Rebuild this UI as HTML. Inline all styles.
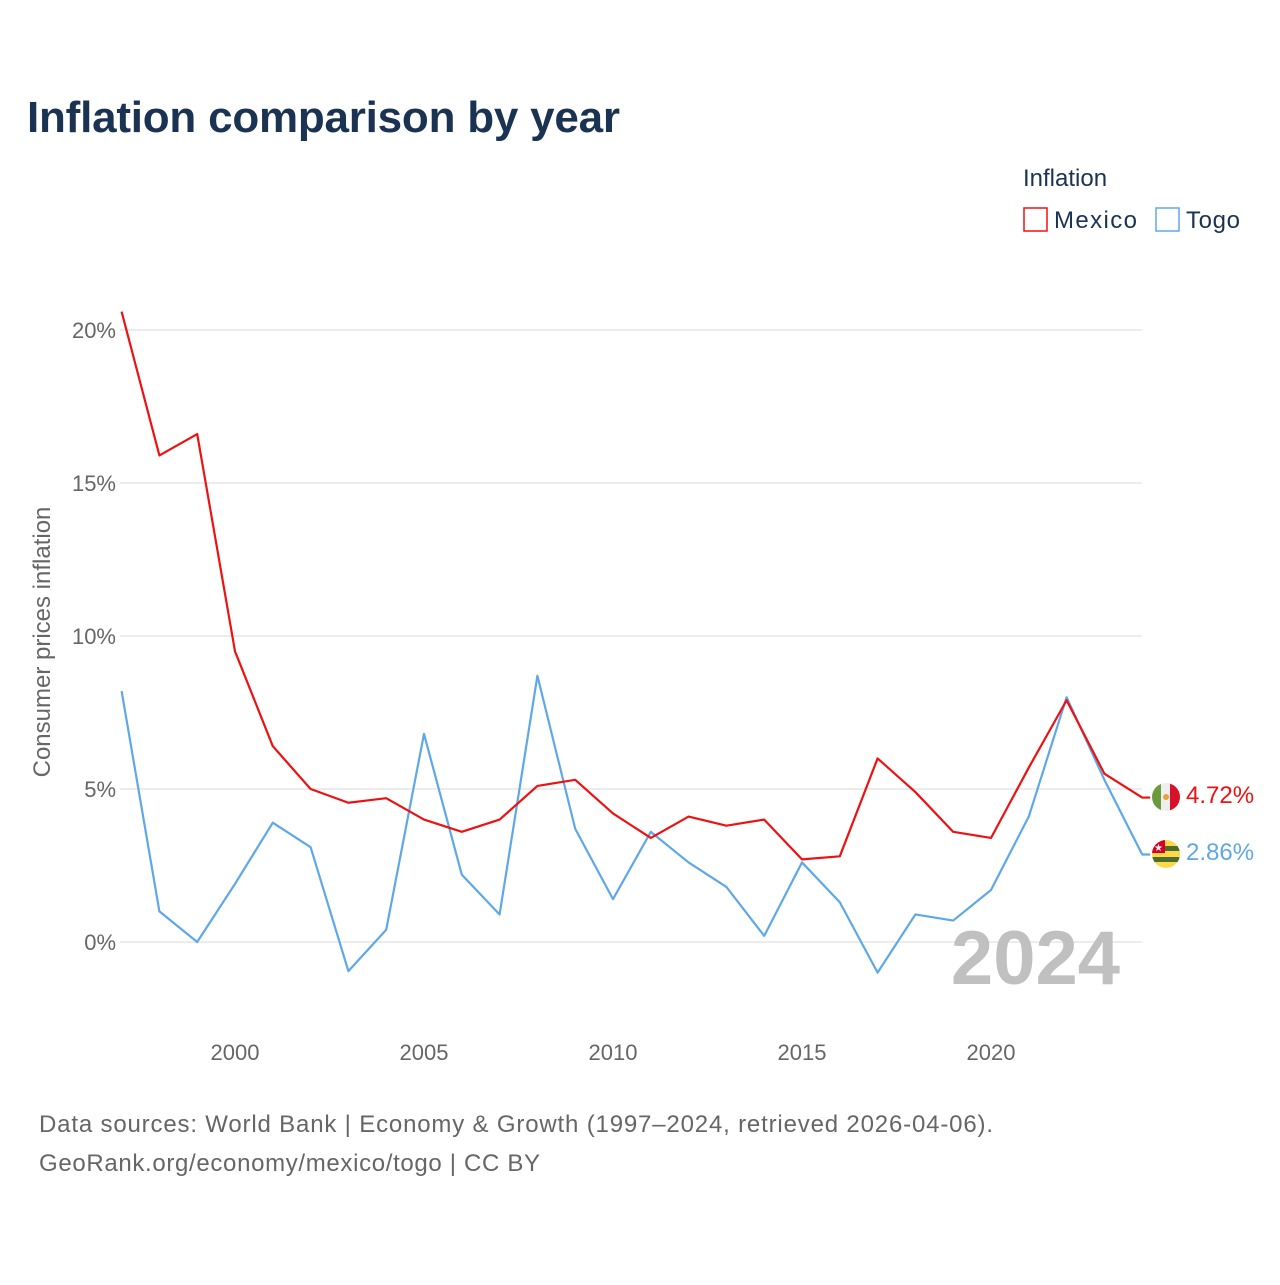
<!DOCTYPE html>
<html><head><meta charset="utf-8"><style>
body{margin:0;background:#fff;font-family:"Liberation Sans",sans-serif;}
</style></head><body>
<svg width="1280" height="1280" xmlns="http://www.w3.org/2000/svg" font-family="Liberation Sans, sans-serif">
<text x="27" y="132" font-size="44" font-weight="bold" fill="#1b3352" textLength="593">Inflation comparison by year</text>
<text x="1023" y="186" font-size="24" fill="#1b3352">Inflation</text>
<g><rect x="1024" y="208" width="23" height="23" fill="none" stroke="#ee1111" stroke-width="1.5"/><text x="1054" y="228" font-size="24" fill="#1b3352" textLength="83">Mexico</text></g>
<g><rect x="1156" y="208" width="23" height="23" fill="none" stroke="#5fa8e8" stroke-width="1.5"/><text x="1186" y="228" font-size="24" fill="#1b3352" textLength="54">Togo</text></g>
<g id="grid"></g>
<g id="yt"></g>
<g id="xt"></g>
<text transform="translate(50,642) rotate(-90)" text-anchor="middle" font-size="24" fill="#666">Consumer prices inflation</text>
<text x="1120" y="984" text-anchor="end" font-size="76" font-weight="bold" fill="#c0c0c0">2024</text>
<g id="lines"></g>
<g><clipPath id="cm"><circle cx="1166" cy="797" r="14"/></clipPath><g clip-path="url(#cm)"><rect x="1152" y="783" width="10" height="28" fill="#6a9a3c"/><rect x="1161" y="783" width="10" height="28" fill="#eee"/><rect x="1170" y="783" width="10" height="28" fill="#d9102a"/><circle cx="1166" cy="797" r="3" fill="#e6a23c"/></g></g>
<g><clipPath id="ct"><circle cx="1166" cy="854" r="14"/></clipPath><g clip-path="url(#ct)"><rect x="1152" y="840" width="28" height="28" fill="#ffd847"/><rect x="1152" y="846" width="28" height="5" fill="#496e2d"/><rect x="1152" y="857" width="28" height="5" fill="#496e2d"/><rect x="1152" y="840" width="13" height="13" fill="#d80027"/><text x="1158.5" y="851" font-size="10" fill="#fff" text-anchor="middle">★</text></g></g>
<text x="1186" y="803" font-size="24" fill="#ee1111">4.72%</text>
<text x="1186" y="860" font-size="24" fill="#5fa8e8">2.86%</text>
<text x="39" y="1132" font-size="24" fill="#666" textLength="954">Data sources: World Bank | Economy &amp; Growth (1997–2024, retrieved 2026-04-06).</text>
<text x="39" y="1171" font-size="24" fill="#666" textLength="501">GeoRank.org/economy/mexico/togo | CC BY</text>
</svg>
<script>
const years=[1997,1998,1999,2000,2001,2002,2003,2004,2005,2006,2007,2008,2009,2010,2011,2012,2013,2014,2015,2016,2017,2018,2019,2020,2021,2022,2023,2024];
const mexico=[20.6,15.9,16.6,9.5,6.4,5.0,4.55,4.7,4.0,3.6,4.0,5.1,5.3,4.2,3.4,4.1,3.8,4.0,2.7,2.8,6.0,4.9,3.6,3.4,5.7,7.9,5.5,4.72];
const togo=[8.2,1.0,0.0,1.9,3.9,3.1,-0.95,0.4,6.8,2.2,0.9,8.7,3.7,1.4,3.6,2.6,1.8,0.2,2.6,1.3,-1.0,0.9,0.7,1.7,4.1,8.0,5.3,2.86];
const yTicks=[0,5,10,15,20];
const xTicks=[2000,2005,2010,2015,2020];
const X=y=>121.6+(y-1997)*37.8, Y=v=>942-v*30.6;
const NS='http://www.w3.org/2000/svg';
function mk(t,a,p){const e=document.createElementNS(NS,t);for(const k in a)e.setAttribute(k,a[k]);document.getElementById(p).appendChild(e);return e;}
yTicks.forEach(v=>{
 const l=mk('line',{x1:120,x2:1142,y1:Y(v),y2:Y(v),stroke:'#e6e6e6','stroke-width':1.5},'grid');
 
 
 const t=mk('text',{x:116,y:Y(v)+8,'text-anchor':'end','font-size':22,fill:'#666'},'yt');
 
 
 t.textContent=v+'%';
});
xTicks.forEach(v=>{
 const t=mk('text',{x:X(v),y:1060,'text-anchor':'middle','font-size':22,fill:'#666'},'xt');
 
 
 t.textContent=v;
});
function line(d,c,n){
 let pts=d.map((v,i)=>X(years[i])+','+Y(v)).join(' ');
 pts+=' '+(X(years[years.length-1])+8)+','+Y(d[d.length-1]);
 const p=mk('polyline',{points:pts,fill:'none',stroke:c,'stroke-width':2.2,'stroke-linejoin':'round'},'lines');
 
 
}
line(togo,'#5fa8e8','togo-line');
line(mexico,'#ee1111','mexico-line');
</script>
</body></html>
